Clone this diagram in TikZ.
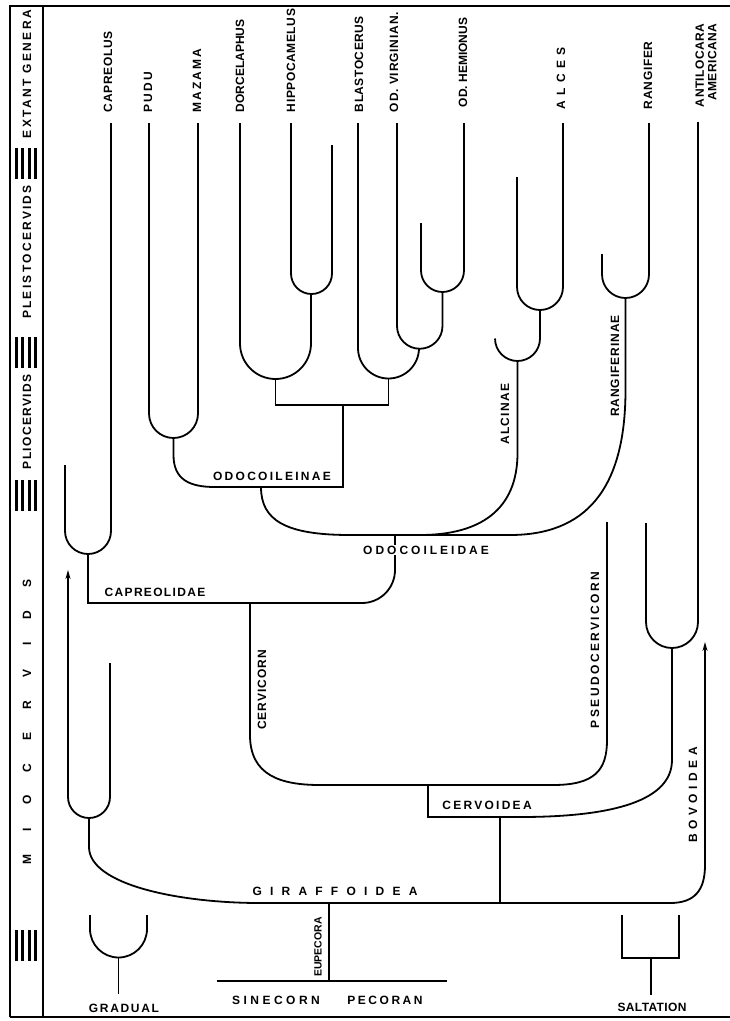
\documentclass[tikz,border=0pt]{standalone}
\usepackage{fontspec}
\newfontfamily\labfont{Liberation Sans}
\usetikzlibrary{arrows.meta}

\tikzset{
  lab/.style={font=\labfont\bfseries\fontsize{12}{12.5}\selectfont\addfontfeature{LetterSpace=#1}, inner sep=0pt},
  lab/.default=6,
  vlab/.style={lab=#1, rotate=90},
  vlab/.default=6,
  hash/.style={line width=3pt},
  up/.style={-{Stealth[length=9pt,width=5pt]}}
}

\begin{document}
\begin{tikzpicture}[x=1pt, y=-1pt, line width=1.8pt]
  \useasboundingbox (0,0) rectangle (730,1021);

  % Frame and time strip
  \draw (10,1017) -- (10,6) -- (730,6);
  \draw (43,6) -- (43,1017);
  \draw (10,1017) -- (730,1017);
  \foreach \y in {148,337,480,930}
    \foreach \x in {16,22,29,35}
      \draw[hash] (\x,\y) -- (\x,\y+31);
  \node[vlab=20] (extant) at (27,74) {EXTANT GENERA};
  \node[vlab=19] (pleisto) at (27,252) {PLEISTOCERVIDS};
  \node[vlab=11] (plio) at (27,422) {PLIOCERVIDS};
  \node[vlab=0] (mio) at (27,722) {\makebox[285pt][s]{M I O C E R V I D S}};

  % Extant genera
  \node[vlab, anchor=west] (capreolus) at (108,113) {CAPREOLUS};
  \node[vlab=17, anchor=west] (pudu) at (148,113) {PUDU};
  \node[vlab=16, anchor=west] (mazama) at (197,113) {MAZAMA};
  \node[vlab=0, anchor=west] (dorcel) at (240,113) {DORCELAPHUS};
  \node[vlab=5, anchor=west] (hippo) at (291,113) {HIPPOCAMELUS};
  \node[vlab=4, anchor=west] (blasto) at (359,113) {BLASTOCERUS};
  \node[vlab=7, anchor=west] (virg) at (394,113) {OD. VIRGINIAN.};
  \node[vlab=0, anchor=west] (hemio) at (463,108) {OD. HEMIONUS};
  \node[vlab=44, anchor=west] (alces) at (561,110) {ALCES};
  \node[vlab=6, anchor=west] (rangifer) at (648,110) {RANGIFER};
  \node[vlab=4, anchor=west, align=right] (antilo) at (706,108) {ANTILOCARA\\AMERICANA};

  % Capreolus
  \draw (65,465) -- (65,531) arc[start angle=180, end angle=0, radius=23] -- (111,123);
  \draw (88,554) -- (88,603) -- (362,603) arc[start angle=90, end angle=0, radius=33] -- (395,535);

  % Pudu and Mazama
  \draw (149,123) -- (149,413.5) arc[start angle=180, end angle=0, radius=24.5] -- (198,123);
  \draw (173.5,438) -- (173.5,455) .. controls (173.5,480) and (190,487) .. (215,487) -- (343,487) -- (343,405);

  % Dorcelaphus and Hippocamelus
  \draw (291,123) -- (291,273.5) arc[start angle=180, end angle=0, radius=20.5] -- (332,145);
  \draw (240,123) -- (240,343.5) arc[start angle=180, end angle=0, radius=35.5] -- (311,294);

  % Blastocerus and Odocoileus
  \draw (421,223) -- (421,270.5) arc[start angle=180, end angle=0, radius=21.5] -- (464,123);
  \draw (397,123) -- (397,326) arc[start angle=180, end angle=0, radius=22.75] -- (442.5,292);
  \draw (358,123) -- (358,348) arc[start angle=180, end angle=0, radius=30.5] -- (419,348);
  \draw (275.5,379) -- (275.5,405) -- (388.5,405) -- (388.5,378.5);

  % Alces
  \draw (517,177) -- (517,287) arc[start angle=180, end angle=0, radius=23] -- (563,123);
  \draw (495,338.5) arc[start angle=180, end angle=0, radius=22.5] -- (540,310);
  \draw (517.5,361) -- (517.5,453) .. controls (517.5,510) and (480,535) .. (420,535);

  % Rangifer
  \draw (602,254) -- (602,274.5) arc[start angle=180, end angle=0, radius=23.5] -- (649,123);
  \draw (625.5,298) -- (625.5,390) .. controls (625.5,490) and (585,535) .. (510,535)
    -- (350,535) .. controls (285,535) and (261,520) .. (261,487);

  % Cervicorn and pseudocervicorn
  \draw (250,603) -- (250,735) .. controls (250,775) and (280,785) .. (320,785)
    -- (553,785) .. controls (595,785) and (607,770) .. (607,740) -- (607,522);
  \draw (428,785) -- (428,817) -- (520,817) .. controls (600,817) and (672,805) .. (672,760) -- (672,648);
  \draw (646,523) -- (646,622) arc[start angle=180, end angle=0, radius=26] -- (698,122);

  % Giraffoidea and bovoidea
  \draw[up] (110,663) -- (110,797) arc[start angle=0, end angle=180, radius=21] -- (68,570);
  \draw[up] (89,818) -- (89,847) .. controls (89,885) and (180,903) .. (260,903)
    -- (670,903) .. controls (695,903) and (705,890) .. (705,865) -- (705,642);
  \draw (500,817) -- (500,903);
  \draw (329,903) -- (329,981);
  \draw (217,981) -- (447,981);

  % Legend
  \draw (90,915) -- (90,929) arc[start angle=180, end angle=0, radius=28.5] -- (147,915);
  \draw (118.5,957.5) -- (118.5,994);
  \draw (622,915) -- (622,958) -- (679,958) -- (679,915);
  \draw (651,958) -- (651,995);

  % Group labels
  \node[lab=19] (odocoileinae) at (272,476) {ODOCOILEINAE};
  \node[lab=25, fill=white, inner sep=1pt] (odocoileidae) at (426,550) {ODOCOILEIDAE};
  \node[lab=11] (capreolidae) at (155,592) {CAPREOLIDAE};
  \node[vlab=12] (alcinae) at (505,414) {ALCINAE};
  \node[vlab=8] (rangiferinae) at (615,366) {RANGIFERINAE};
  \node[vlab=8] (cervicorn) at (262,690) {CERVICORN};
  \node[vlab=20] (pseudo) at (595,650) {PSEUDOCERVICORN};
  \node[lab=19] (cervoidea) at (487,805) {CERVOIDEA};
  \node[vlab=38] (bovoidea) at (693,795) {BOVOIDEA};
  \node[lab=0] (giraffoidea) at (335,891) {\makebox[165pt][s]{G I R A F F O I D E A}};
  \node[vlab=0, font=\labfont\bfseries\fontsize{10.5}{11}\selectfont] (eupecora) at (318,947) {EUPECORA};
  \node[lab=29] (sinecorn) at (276,1000) {SINECORN};
  \node[lab=21] (pecoran) at (385,1000) {PECORAN};
  \node[lab=14] (gradual) at (124,1008) {GRADUAL};
  \node[lab=3] (saltation) at (652,1007) {SALTATION};
\end{tikzpicture}
\end{document}
